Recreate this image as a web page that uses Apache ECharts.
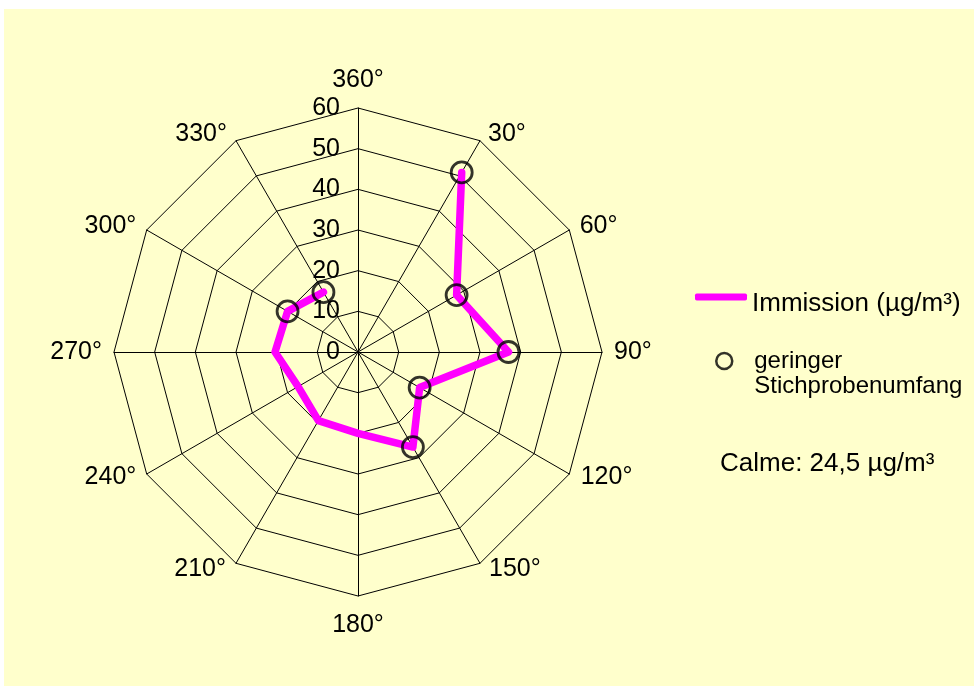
<!DOCTYPE html>
<html>
<head>
<meta charset="utf-8">
<script src="https://cdn.jsdelivr.net/npm/echarts@6/dist/echarts.min.js"></script>
<style>
  html, body { margin: 0; padding: 0; background: #ffffff; }
  #wrap { position: relative; width: 974px; height: 688px; background: #ffffff; }
  #chart { position: absolute; left: 4px; top: 9px; width: 970px; height: 677px; background: #FFFFCC; }
</style>
</head>
<body>
<div id="wrap"><div id="chart"></div></div>
<script>
// Windrichtung (Grad) und Immissionswerte
var directions = [30, 60, 90, 120, 150, 180, 210, 240, 270, 300, 330];
var immission = [51, 28, 37, 17.5, 27, 20, 19.5, 17, 20.4, 20, 17];
var lowSample = [true, true, true, true, true, false, false, false, false, true, true];
// Gitterbeschriftung (gegen den Uhrzeigersinn ab oben)
var sectorLabels = ['360°', '330°', '300°', '270°', '240°', '210°', '180°', '150°', '120°', '90°', '60°', '30°'];
var radiusMax = 60;
var calmeText = 'Calme: 24,5 µg/m³';

(function() {
  var font = 'Arial, "Liberation Sans", sans-serif';
  var ink = '#000000';
  var magenta = '#FF00FF';
  var center = [354, 343];
  var radius = 244;

  // small nudges so the sector labels sit like in the original
  var namePad = {
    '360°': [0, 0, 3, 0],
    '330°': [7, 3, 0, 0],
    '300°': [5, 0, 0, 0],
    '270°': [0, 0, 0, 0],
    '240°': [0, 0, 5, 0],
    '210°': [0, 4, 9, 0],
    '180°': [5, 0, 0, 0],
    '150°': [0, 0, 9, 3],
    '120°': [0, 0, 6, 1],
    '90°': [0, 0, 0, 0],
    '60°': [4, 0, 0, 0],
    '30°': [7, 0, 0, 2]
  };
  var nameRich = {};
  sectorLabels.forEach(function(n, i) {
    nameRich['n' + i] = { fontSize: 25, fontFamily: font, color: ink, padding: namePad[n] };
  });

  var lineData = directions.map(function(d, i) { return [immission[i], d]; });
  var circleData = [];
  directions.forEach(function(d, i) {
    if (lowSample[i]) circleData.push([immission[i], d]);
  });

  var chart = echarts.init(document.getElementById('chart'), null, { renderer: 'canvas' });
  chart.setOption({
    animation: false,
    textStyle: { fontFamily: font },
    radar: {
      center: center,
      radius: radius,
      startAngle: 90,
      shape: 'polygon',
      splitNumber: 6,
      indicator: sectorLabels.map(function(n) { return { name: n, min: 0, max: radiusMax }; }),
      axisName: {
        color: ink, fontSize: 25, fontFamily: font,
        formatter: function(name) { return '{n' + sectorLabels.indexOf(name) + '|' + name + '}'; },
        rich: nameRich
      },
      nameGap: 12,
      axisLine: { lineStyle: { color: ink, width: 1 } },
      splitLine: { lineStyle: { color: ink, width: 1 } },
      splitArea: { show: false },
      axisTick: { show: false },
      axisLabel: { show: false }
    },
    polar: { center: center, radius: radius },
    angleAxis: {
      type: 'value', min: 0, max: 360, startAngle: 90, clockwise: true,
      show: false
    },
    radiusAxis: {
      type: 'value', min: 0, max: radiusMax, interval: 10,
      axisLine: { show: false },
      axisTick: { show: false },
      splitLine: { show: false },
      axisLabel: { show: true, color: ink, fontSize: 25, fontFamily: font, margin: 18 }
    },
    legend: [
      {
        data: ['Immission (µg/m³)'],
        left: 691, top: 268, padding: 0,
        itemWidth: 52, itemHeight: 7,
        icon: 'roundRect',
        itemStyle: { color: magenta },
        formatter: function(name) { return '{a|' + name + '}'; },
        textStyle: {
          color: ink, fontSize: 26, fontFamily: font,
          rich: { a: { fontSize: 26, fontFamily: font, color: ink, lineHeight: 30, padding: [14, 0, 0, 0] } }
        }
      },
      {
        data: ['geringer\nStichprobenumfang'],
        left: 711, top: 315, padding: 0,
        itemWidth: 16, itemHeight: 16,
        icon: 'circle',
        itemStyle: { color: 'transparent', borderColor: ink, borderWidth: 2.5 },
        // empty first line keeps the circle level with "geringer"
        formatter: function(name) {
          var parts = name.split('\n');
          return '{a| }\n{a|' + parts[0] + '}\n{a|' + parts[1] + '}';
        },
        textStyle: {
          color: ink, fontSize: 24, fontFamily: font,
          rich: {
            a: { fontSize: 24, fontFamily: font, color: ink, lineHeight: 25, padding: [0, 0, 0, 17] }
          }
        }
      }
    ],
    graphic: [{
      type: 'text',
      left: 716, top: 442,
      style: { text: calmeText, fill: ink, font: '26px ' + font }
    }],
    series: [
      {
        name: 'Immission (µg/m³)',
        type: 'line',
        coordinateSystem: 'polar',
        data: lineData,
        symbol: 'none',
        lineStyle: { color: magenta, width: 7.5, cap: 'round', join: 'round' },
        itemStyle: { color: magenta },
        z: 3
      },
      {
        name: 'geringer\nStichprobenumfang',
        type: 'scatter',
        coordinateSystem: 'polar',
        data: circleData,
        symbol: 'circle',
        symbolSize: 21,
        itemStyle: { color: 'transparent', borderColor: ink, borderWidth: 2.8 },
        z: 4
      }
    ]
  });
  window.addEventListener('resize', function() { chart.resize(); });
})();
</script>
</body>
</html>
